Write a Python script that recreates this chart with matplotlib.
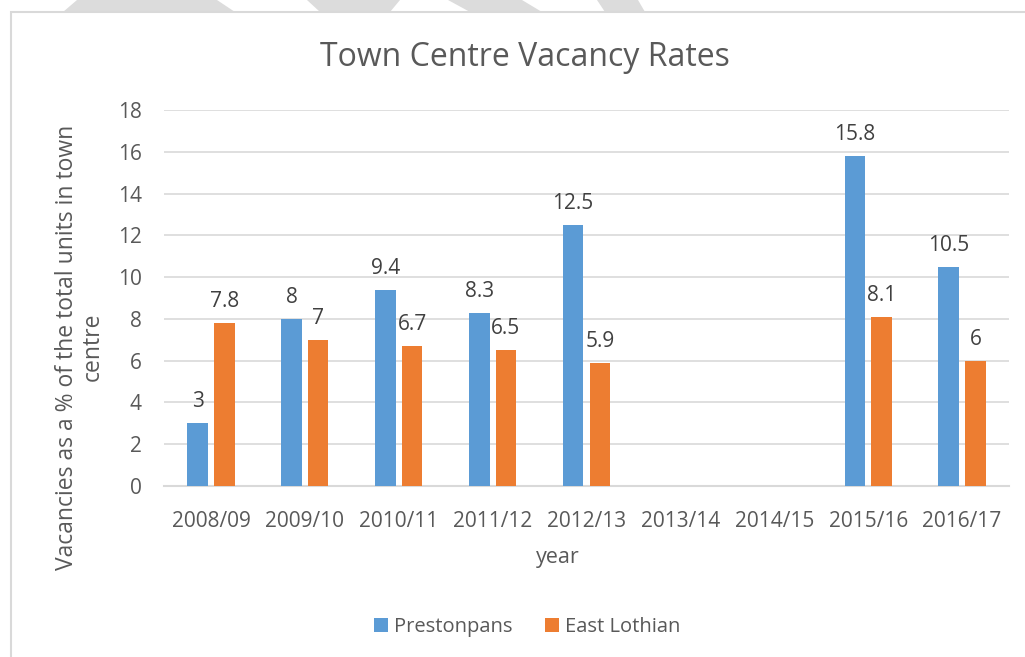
import numpy as np
import matplotlib.pyplot as plt
from matplotlib.patches import Rectangle, Polygon

years = ["2008/09", "2009/10", "2010/11", "2011/12", "2012/13",
         "2013/14", "2014/15", "2015/16", "2016/17"]
prestonpans = [3, 8, 9.4, 8.3, 12.5, np.nan, np.nan, 15.8, 10.5]
east_lothian = [7.8, 7, 6.7, 6.5, 5.9, np.nan, np.nan, 8.1, 6]

blue = "#5B9BD5"
orange = "#ED7D31"
grey_txt = "#595959"
grid_c = "#D9D9D9"

plt.rcParams['font.family'] = ['Open Sans', 'DejaVu Sans']

W, H = 1025, 657
fig = plt.figure(figsize=(W / 100, H / 100), dpi=100)

# faint watermark bits peeking above the chart frame
shapes = [
    [(77, 0), (217, 0), (235, 12), (63, 12)],
    [(307, 0), (400, 0), (390, 12), (320, 12)],
    [(448, 0), (522, 0), (542, 12), (470, 12)],
    [(597, 0), (638, 0), (645, 12), (605, 12)],
]
for s in shapes:
    pts = [(x / W, 1 - y / H) for x, y in s]
    fig.patches.append(Polygon(pts, closed=True, transform=fig.transFigure,
                               facecolor="#DCDCDC", edgecolor="none", zorder=-2))

# chart frame
fig.patches.append(Rectangle((11 / W, -0.05), 1.2, 1 - 11.5 / H + 0.05,
                             transform=fig.transFigure, facecolor="white",
                             edgecolor=grid_c, lw=1.5, zorder=-1))

ax = fig.add_axes([164 / W, 1 - 486 / H, (1009 - 164) / W, (486 - 110) / H])
ax.set_facecolor("none")

x = np.arange(len(years))
bw = 0.22
off = 0.142
b1 = ax.bar(x - off, prestonpans, bw, color=blue, label="Prestonpans", zorder=3)
b2 = ax.bar(x + off, east_lothian, bw, color=orange, label="East Lothian", zorder=3)

for bars, vals in ((b1, prestonpans), (b2, east_lothian)):
    for rect, v in zip(bars, vals):
        if np.isnan(v):
            continue
        ax.annotate(f"{v:g}", (rect.get_x() + rect.get_width() / 2, v),
                    xytext=(0, 8), textcoords="offset points",
                    ha="center", va="bottom", fontsize=15, color="#404040")

ax.set_xlim(-0.5, 8.5)
ax.set_ylim(0, 18)
ax.set_yticks(range(0, 19, 2))
ax.set_xticks(x)
ax.set_xticklabels(years)
ax.tick_params(axis="both", length=0, labelsize=15, colors=grey_txt)
ax.tick_params(axis="x", pad=18)
ax.tick_params(axis="y", pad=16)
ax.yaxis.grid(True, color=grid_c, lw=1.2, zorder=0)
for side in ("top", "right", "left"):
    ax.spines[side].set_visible(False)
ax.spines["bottom"].set_color(grid_c)
ax.spines["bottom"].set_linewidth(1.5)

fig.text(525 / W, 1 - 58 / H, "Town Centre Vacancy Rates", ha="center",
         va="center", fontsize=23, color=grey_txt)
fig.text(558 / W, 1 - 557 / H, "year", ha="center", va="center",
         fontsize=15.5, color=grey_txt)
fig.text(80 / W, 1 - 347 / H,
         "Vacancies as a % of the total units in town\ncentre",
         rotation=90, ha="center", va="center", multialignment="center",
         fontsize=16.5, color=grey_txt, linespacing=1.12)

fig.legend(handles=[b1, b2], loc="center", bbox_to_anchor=(527 / W, 1 - 627 / H),
           ncol=2, frameon=False, fontsize=14.5, labelcolor=grey_txt,
           handlelength=0.7, handleheight=0.7, handletextpad=0.3,
           columnspacing=1.6)

fig.savefig("out.png", dpi=100)
